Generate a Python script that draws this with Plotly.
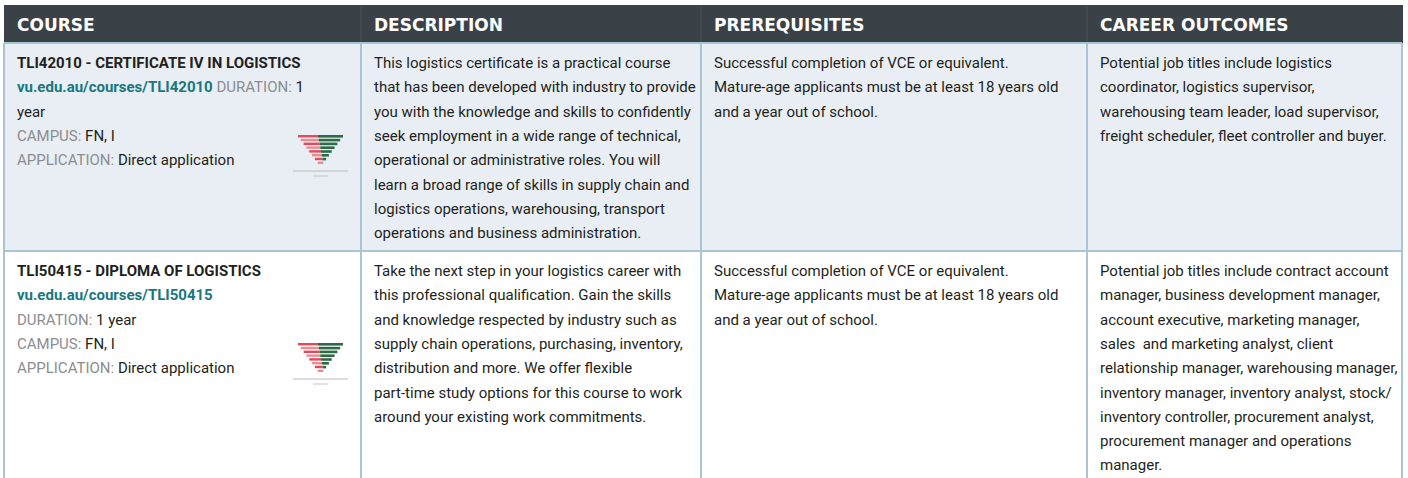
import plotly.graph_objects as go

# ---------------- data ----------------
columns = ["COURSE", "DESCRIPTION", "PREREQUISITES", "CAREER OUTCOMES"]

course_titles = ["TLI42010 - CERTIFICATE IV IN LOGISTICS", "TLI50415 - DIPLOMA OF LOGISTICS"]
course_urls = ["vu.edu.au/courses/TLI42010", "vu.edu.au/courses/TLI50415"]
durations = ["1 year", "1 year"]
campuses = ["FN, I", "FN, I"]
applications = ["Direct application", "Direct application"]

descriptions = [
    ["This logistics certificate is a practical course",
     "that has been developed with industry to provide",
     "you with the knowledge and skills to confidently",
     "seek employment in a wide range of technical,",
     "operational or administrative roles. You will",
     "learn a broad range of skills in supply chain and",
     "logistics operations, warehousing, transport",
     "operations and business administration."],
    ["Take the next step in your logistics career with",
     "this professional qualification. Gain the skills",
     "and knowledge respected by industry such as",
     "supply chain operations, purchasing, inventory,",
     "distribution and more. We offer flexible",
     "part-time study options for this course to work",
     "around your existing work commitments."],
]

prerequisites = [
    ["Successful completion of VCE or equivalent.",
     "Mature-age applicants must be at least 18 years old",
     "and a year out of school."],
    ["Successful completion of VCE or equivalent.",
     "Mature-age applicants must be at least 18 years old",
     "and a year out of school."],
]

careers = [
    ["Potential job titles include logistics",
     "coordinator, logistics supervisor,",
     "warehousing team leader, load supervisor,",
     "freight scheduler, fleet controller and buyer."],
    ["Potential job titles include contract account",
     "manager, business development manager,",
     "account executive, marketing manager,",
     "sales  and marketing analyst, client",
     "relationship manager, warehousing manager,",
     "inventory manager, inventory analyst, stock/",
     "inventory controller, procurement analyst,",
     "procurement manager and operations",
     "manager."],
]

# ---------------- style ----------------
W, H = 1408, 478
HEADER_BG = "#3a4248"
BORDER = "#a8c5d2"
ROW_FILLS = ["#e8eef3", "#ffffff"]
TEAL = "#17787f"
GRAY = "#8b8d8f"
DARK = "#231f20"
BODY_FONT = "Roboto, sans-serif"
HEAD_FONT = "DejaVu Sans, sans-serif"
BODY_SIZE = 15
LINE_H = 24.3

col_edges = [4, 361, 701, 1087, 1402]
header_top, header_bot = 5, 43
row_edges = [43, 251, 478]
text_pad = 11
first_line_off = 20


def gray(s):
    return f"<span style='color:{GRAY}'>{s}</span>"


def teal(s):
    return f"<span style='color:{TEAL}'><b>{s}</b></span>"


def course_block(i):
    dur_num, dur_unit = durations[i].split(" ", 1)
    lines = [f"<b>{course_titles[i]}</b>"]
    if i == 0:
        lines.append(f"{teal(course_urls[i])} {gray('DURATION:')} {dur_num}")
        lines.append(dur_unit)
    else:
        lines.append(teal(course_urls[i]))
        lines.append(f"{gray('DURATION:')} {durations[i]}")
    lines.append(f"{gray('CAMPUS:')} {campuses[i]}")
    lines.append(f"{gray('APPLICATION:')} {applications[i]}")
    return lines


fig = go.Figure()
shapes = []
annotations = []

# header
shapes.append(dict(type="rect", x0=col_edges[0], x1=col_edges[-1] + 1, y0=header_top, y1=header_bot,
                   fillcolor=HEADER_BG, line=dict(width=0), layer="below"))
for c, name in enumerate(columns):
    annotations.append(dict(x=col_edges[c] + text_pad, y=(header_top + header_bot) / 2 + 1, text=f"<b>{name}</b>",
                            xanchor="left", yanchor="middle", showarrow=False,
                            font=dict(family=HEAD_FONT, size=17, color="white")))
for x in col_edges[1:-1]:
    shapes.append(dict(type="line", x0=x, x1=x, y0=header_top, y1=header_bot,
                       line=dict(color="#4a5258", width=1)))

# rows
for r in range(2):
    y0, y1 = row_edges[r], row_edges[r + 1]
    shapes.append(dict(type="rect", x0=col_edges[0], x1=col_edges[-1], y0=y0, y1=y1,
                       fillcolor=ROW_FILLS[r], line=dict(width=0), layer="below"))
    cells = [course_block(r), descriptions[r], prerequisites[r], careers[r]]
    for c, lines in enumerate(cells):
        for k, line in enumerate(lines):
            annotations.append(dict(x=col_edges[c] + text_pad, y=y0 + first_line_off + k * LINE_H,
                                    text=line, xanchor="left", yanchor="middle", showarrow=False,
                                    font=dict(family=BODY_FONT, size=BODY_SIZE, color=DARK)))
    # logo (inverted striped triangle)
    lx0, lx1, ly0 = 298, 343, y0 + 92
    n = 8
    for s in range(n):
        t = s / n
        yy = ly0 + s * 3.8
        xl = lx0 + (320.5 - lx0) * t
        xr = lx1 - (lx1 - 320.5) * t
        xm = 318 + 6 * t
        shapes.append(dict(type="rect", x0=xl, x1=min(xm, xr), y0=yy, y1=yy + 2.4,
                           fillcolor="#e24a5a" if s % 2 == 0 else "#f08a92", line=dict(width=0)))
        if xm < xr:
            shapes.append(dict(type="rect", x0=xm, x1=xr, y0=yy, y1=yy + 2.6,
                               fillcolor="#2f6a47", line=dict(width=0)))
    shapes.append(dict(type="line", x0=293, x1=348, y0=ly0 + 36, y1=ly0 + 36,
                       line=dict(color="#b9bcbd", width=1)))
    shapes.append(dict(type="line", x0=313, x1=328, y0=ly0 + 41, y1=ly0 + 41,
                       line=dict(color="#c4c6c7", width=1)))

# borders
shapes.append(dict(type="line", x0=col_edges[0], x1=col_edges[-1], y0=header_bot, y1=header_bot,
                   line=dict(color=BORDER, width=2)))
shapes.append(dict(type="line", x0=col_edges[0], x1=col_edges[-1], y0=row_edges[1], y1=row_edges[1],
                   line=dict(color=BORDER, width=2)))
for x in col_edges:
    shapes.append(dict(type="line", x0=x, x1=x, y0=header_bot, y1=H,
                       line=dict(color=BORDER, width=2)))

fig.update_layout(
    width=W, height=H, margin=dict(l=0, r=0, t=0, b=0),
    paper_bgcolor="white", plot_bgcolor="white",
    xaxis=dict(range=[0, W], visible=False, fixedrange=True),
    yaxis=dict(range=[H, 0], visible=False, fixedrange=True),
    shapes=shapes, annotations=annotations, showlegend=False,
)

fig.write_html("out.html", config={"displayModeBar": False},
               post_script="document.body.style.margin='0';document.body.style.overflow='hidden';")
